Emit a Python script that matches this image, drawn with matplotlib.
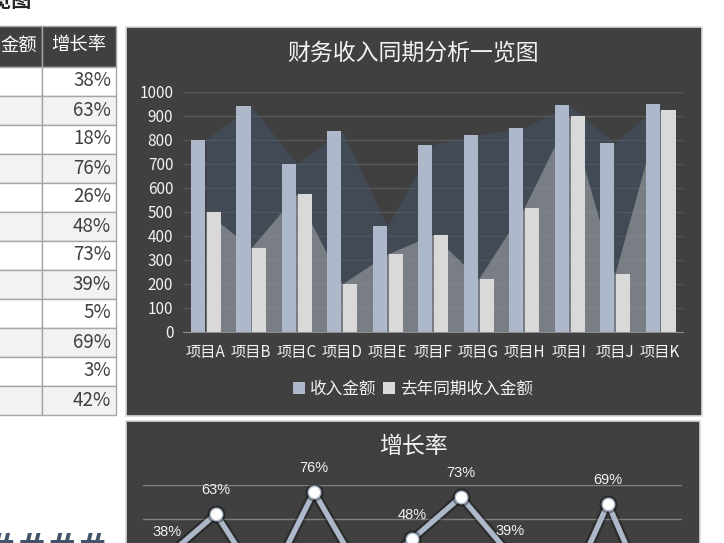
import numpy as np
import matplotlib
matplotlib.use('Agg')
import matplotlib.pyplot as plt
from matplotlib.patches import Rectangle, Patch

plt.rcParams['font.family'] = ['Noto Sans CJK SC', 'DejaVu Sans']

# 数据
categories = ['项目A', '项目B', '项目C', '项目D', '项目E', '项目F',
              '项目G', '项目H', '项目I', '项目J', '项目K']
revenue = [800, 940, 700, 835, 440, 780, 820, 850, 945, 785, 950]
last_year = [500, 350, 575, 200, 325, 405, 220, 515, 900, 240, 925]
growth_table = [38, 63, 18, 76, 26, 48, 73, 39, 5, 69, 3, 42]  # 最后一行是平均值
growth = growth_table[:len(categories)]

W, H = 724, 543
fig = plt.figure(figsize=(W / 100, H / 100), dpi=100)
fig.patch.set_facecolor('white')


def box(x0, y0, x1, y1):
    # 像素坐标(左上角为原点) -> figure 坐标
    return [x0 / W, 1 - y1 / H, (x1 - x0) / W, (y1 - y0) / H]


# 背景层: 表格和面板
bg = fig.add_axes([0, 0, 1, 1])
bg.set_xlim(0, W)
bg.set_ylim(H, 0)
bg.axis('off')

# 左上角被截断的标题
bg.text(32, 0, '财务收入同期分析一览图', ha='right', va='center', fontsize=14.5,
        fontweight='bold', color='#262626')

# 表格
grid_c = '#a6a6a6'
bg.add_patch(Rectangle((-2, 26), 44, 40.5, fc='#404040', ec=grid_c, lw=1))
bg.add_patch(Rectangle((42, 26), 74, 40.5, fc='#404040', ec=grid_c, lw=1))
bg.text(37, 46, '金额', ha='right', va='center', fontsize=13.2, color='white')
bg.text(79, 46, '增长率', ha='center', va='center', fontsize=13.2, color='white')
row_h = 29
for i, v in enumerate(growth_table):
    y0 = 66.5 + i * row_h
    fc = 'white' if i % 2 == 0 else '#f2f2f2'
    bg.add_patch(Rectangle((-2, y0), 44, row_h, fc=fc, ec=grid_c, lw=1))
    bg.add_patch(Rectangle((42, y0), 74, row_h, fc=fc, ec=grid_c, lw=1))
    bg.text(111, y0 + row_h / 2, f'{v}%', ha='right', va='center',
            fontsize=13.5, color='#404040')

# 左下角溢出的 ####
bg.text(107, 559, '#####', ha='right', va='baseline', fontsize=26,
        fontweight='bold', family='DejaVu Sans', color='#44546a')

# 两个深色面板
bg.add_patch(Rectangle((126, 27), 576, 389, fc='#404040', ec='#d9d9d9', lw=1.2))
bg.add_patch(Rectangle((126, 421), 574, 140, fc='#404040', ec='#d9d9d9', lw=1.2))

text_c = '#f2f2f2'

# 主图: 柱形 + 面积
ax = fig.add_axes(box(183, 91.7, 683, 332))
ax.set_facecolor('none')
x = np.arange(len(categories))
ax.fill_between(x, revenue, color='#44546a', alpha=0.5, lw=0, zorder=1)
ax.fill_between(x, last_year, color='#d9d9d9', alpha=0.37, lw=0, zorder=2)
ax.bar(x - 0.17, revenue, width=0.31, color='#adb9ca', zorder=3)
ax.bar(x + 0.18, last_year, width=0.31, color='#d9d9d9', zorder=3)
ax.set_xlim(-0.5, len(categories) - 0.5)
ax.set_ylim(0, 1000)
ax.set_yticks(range(0, 1001, 100))
ax.set_xticks(x, categories)
ax.grid(axis='y', color='#595959', lw=1)
ax.set_axisbelow(True)
for s in ['top', 'right', 'left']:
    ax.spines[s].set_visible(False)
ax.spines['bottom'].set_color('#8c8c8c')
ax.tick_params(axis='both', length=0, colors=text_c)
ax.tick_params(axis='y', labelsize=11, pad=7)
ax.tick_params(axis='x', labelsize=11, pad=9)

fig.text(413 / W, 1 - 53 / H, '财务收入同期分析一览图', ha='center', va='center',
         fontsize=16.5, color=text_c)

handles = [Patch(fc='#adb9ca', ec='none', label='收入金额'),
           Patch(fc='#d9d9d9', ec='none', label='去年同期收入金额')]
fig.legend(handles=handles, loc='center', bbox_to_anchor=(413 / W, 1 - 389 / H),
           ncol=2, frameon=False, fontsize=12, labelcolor=text_c,
           handlelength=0.7, handleheight=0.7, handletextpad=0.3,
           columnspacing=0.4)

# 增长率折线图
ax2 = fig.add_axes(box(142.5, 485, 681.5, 621))
ax2.set_facecolor('none')
ax2.set_xlim(-0.5, len(categories) - 0.5)
ax2.set_ylim(0, 80)
ax2.set_yticks(range(0, 81, 20))
ax2.grid(axis='y', color='#808080', lw=1)
ax2.set_axisbelow(True)
for s in ax2.spines.values():
    s.set_visible(False)
ax2.tick_params(length=0, labelleft=False, labelbottom=False)
ax2.plot(x, growth, color='black', lw=7, alpha=0.3, zorder=2)
ax2.plot(x, growth, color='#adb9ca', lw=3.8, zorder=3)
ax2.plot(x, growth, 'o', ms=13, color='black', alpha=0.35, mew=0, zorder=4)
ax2.plot(x, growth, 'o', ms=9, mfc='white', mec='#adb9ca', mew=1, zorder=5)
for i, v in enumerate(growth):
    ax2.annotate(f'{v}%', (i, v), xytext=(0, 17.3), textcoords='offset points',
                 ha='center', va='center', fontsize=10.5, color=text_c,
                 family='Liberation Sans')

fig.text(413 / W, 1 - 446 / H, '增长率', ha='center', va='center',
         fontsize=16.5, color=text_c)

fig.savefig('out.png', dpi=100)
